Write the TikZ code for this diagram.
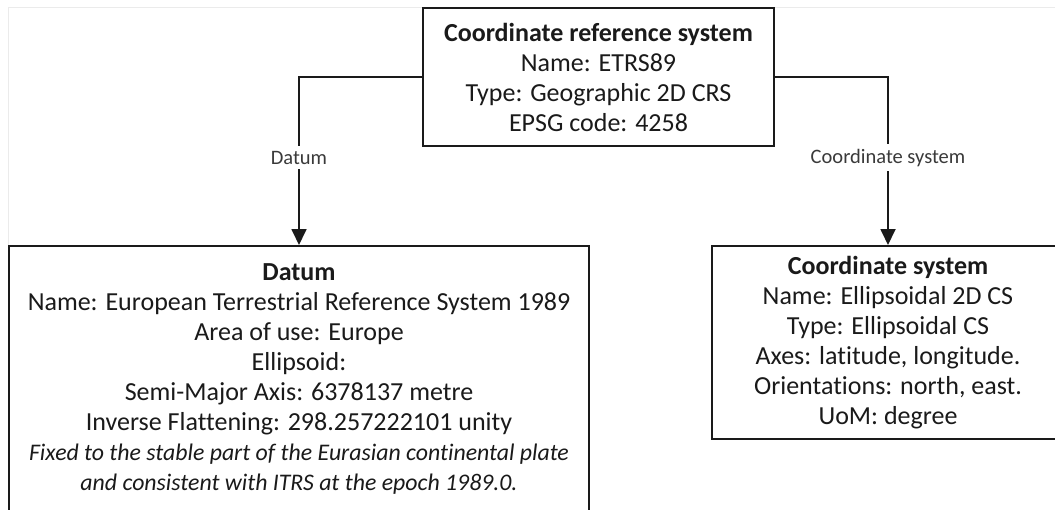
\documentclass[tikz,border=0pt]{standalone}
\usepackage{fontspec}
\setmainfont{Carlito}[Ligatures=NoCommon]
\usetikzlibrary{arrows.meta, positioning}
\definecolor{cink}{HTML}{1A1A1A}
\definecolor{clabel}{HTML}{3A3A3A}
\newcommand{\notefont}{\fontsize{23.8}{30}\selectfont\itshape}
\tikzset{
  every picture/.style={line width=2pt},
  box/.style={draw=cink, fill=white, align=center, inner sep=0pt, font=\fontsize{26}{30}\selectfont, text=cink},
  txt/.style={align=center, inner sep=0pt, font=\fontsize{26}{30}\selectfont, text=cink},
  arrow/.style={-{Triangle[length=16pt, width=15pt]}, draw=cink, line width=1.8pt},
  lbl/.style={fill=white, inner xsep=2pt, inner ysep=5pt, font=\fontsize{20.5}{24}\selectfont, text=clabel},
}

\begin{document}
\begin{tikzpicture}[x=1pt, y=-1pt]
  \useasboundingbox (0,0) rectangle (1055,509);
  \clip (0,0) rectangle (1055,509);
  % faint frame of the figure
  \draw[black!8, line width=1pt] (8,509) |- (1055,7);
  \node[box, minimum width=351, minimum height=138] (crs) at (598.5,77) {\textbf{Coordinate reference system}\\ Name: ETRS89\\ Type: Geographic 2D CRS\\ EPSG code: 4258};
  \node[box, minimum width=580, minimum height=290, anchor=north] (datum) at (299,245) {};
  \node[txt, below=18pt of datum.north] (datumtxt) {\textbf{Datum}\\ Name: European Terrestrial Reference System 1989\\ Area of use: Europe\\ Ellipsoid:\\ Semi-Major Axis: 6378137 metre\\ Inverse Flattening: 298.257222101 unity\\ {\notefont Fixed to the stable part of the Eurasian continental plate}\\ {\notefont and consistent with ITRS at the epoch 1989.0.}};
  \node[box, minimum width=352, minimum height=193] (cs) at (888,342.5) {\textbf{Coordinate system}\\ Name: Ellipsoidal 2D CS\\ Type: Ellipsoidal CS\\ Axes: latitude, longitude.\\ Orientations: north, east.\\ UoM: degree};
  \foreach \side/\dst/\lab in {west/datum/Datum, east/cs/Coordinate system}
    \draw[arrow] (crs.\side) -| node[lbl, pos=0.74] {\lab} (\dst.north);
\end{tikzpicture}
\end{document}
